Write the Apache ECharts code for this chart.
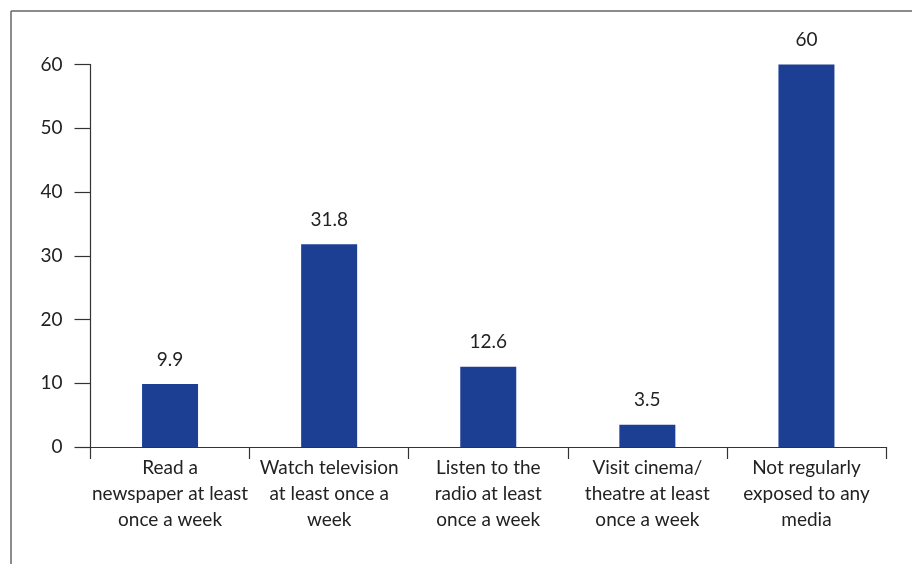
<!DOCTYPE html>
<html><head><meta charset="utf-8">
<script src="https://cdn.jsdelivr.net/npm/echarts@6/dist/echarts.min.js"></script>
<style>html,body{margin:0;padding:0;background:#fff}#c{width:912px;height:564px}</style>
</head><body><div id="c"></div>
<script>
const categories = [
  "Read a\nnewspaper at least\nonce a week",
  "Watch television\nat least once a\nweek",
  "Listen to the\nradio at least\nonce a week",
  "Visit cinema/\ntheatre at least\nonce a week",
  "Not regularly\nexposed to any\nmedia"
];
const values = [9.9, 31.8, 12.6, 3.5, 60];
const yTicks = [0, 10, 20, 30, 40, 50, 60];

const font = "Lato, 'Open Sans', sans-serif";
const chart = echarts.init(document.getElementById('c'));
chart.setOption({
  animation: false,
  graphic: [
    { type: 'line', shape: { x1: 11, y1: 11, x2: 912, y2: 11 }, style: { stroke: '#666', lineWidth: 1.5 } },
    { type: 'line', shape: { x1: 11, y1: 11, x2: 11, y2: 564 }, style: { stroke: '#666', lineWidth: 1.5 } }
  ],
  grid: { left: 90.5, right: 26, top: 64.5, bottom: 117, containLabel: false },
  xAxis: {
    type: 'category',
    data: categories,
    axisLine: { lineStyle: { color: '#333', width: 1.2 } },
    axisTick: { show: true, length: 12, lineStyle: { color: '#333', width: 1.2 } },
    axisLabel: { interval: 0, color: '#222', fontSize: 19, fontFamily: font, lineHeight: 26, margin: 8 }
  },
  yAxis: {
    type: 'value',
    min: 0, max: 60, interval: 10,
    axisLine: { show: true, lineStyle: { color: '#333', width: 1.2 } },
    axisTick: { show: true, length: 16, lineStyle: { color: '#333', width: 1.2 } },
    splitLine: { show: false },
    axisLabel: { color: '#222', fontSize: 19, fontFamily: font, margin: 28 }
  },
  series: [{
    type: 'bar',
    data: values,
    barWidth: 56,
    itemStyle: { color: '#1c3f94' },
    label: { show: true, position: 'top', distance: 15, color: '#222', fontSize: 19, fontFamily: font }
  }]
});
</script></body></html>
